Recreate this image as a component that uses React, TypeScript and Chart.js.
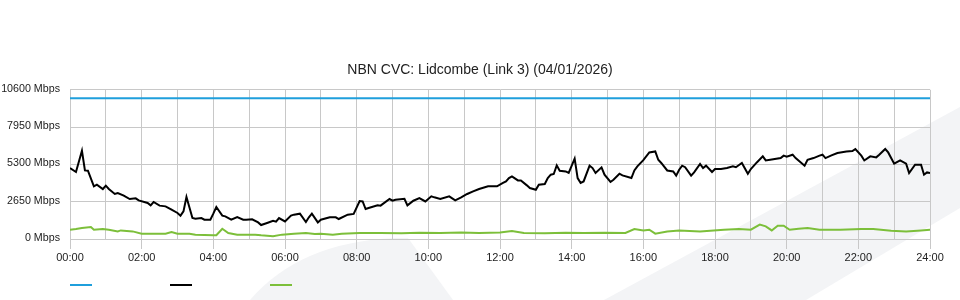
import React, { useEffect, useRef } from "react";
import { Chart, registerables } from "chart.js";

Chart.register(...registerables);

const TITLE = "NBN CVC: Lidcombe (Link 3) (04/01/2026)";
const Y_MAX = 10600;
const Y_STEP = 2650;
const X_MAX_MIN = 1440;

const capacityTimes = [0, 1440];
const capacityMbps = [10000, 10000];

const downTimes = [
  0, 10, 20, 25, 30, 40, 45, 55, 60, 65,
  75, 80, 90, 100, 110, 115, 130, 135, 140, 150,
  160, 170, 180, 185, 190, 195, 205, 210, 220, 225,
  235, 240, 245, 255, 260, 270, 280, 290, 295, 305,
  315, 320, 330, 340, 345, 350, 360, 370, 375, 385,
  395, 400, 405, 415, 420, 435, 445, 450, 465, 475,
  485, 490, 495, 500, 515, 520, 535, 540, 545, 560,
  565, 575, 585, 595, 605, 610, 620, 635, 645, 655,
  665, 675, 685, 700, 715, 725, 730, 735, 740, 750,
  755, 765, 770, 780, 785, 795, 800, 805, 810, 815,
  820, 830, 835, 845, 850, 855, 860, 870, 875, 880,
  890, 895, 905, 910, 920, 925, 940, 945, 950, 960,
  970, 980, 985, 990, 1000, 1010, 1015, 1020, 1025, 1030,
  1040, 1045, 1055, 1060, 1065, 1075, 1080, 1090, 1100, 1110,
  1115, 1125, 1135, 1140, 1150, 1160, 1165, 1175, 1190, 1195,
  1200, 1210, 1215, 1230, 1235, 1245, 1255, 1260, 1265, 1275,
  1285, 1290, 1300, 1310, 1315, 1325, 1330, 1340, 1350, 1355,
  1365, 1370, 1380, 1390, 1400, 1405, 1415, 1425, 1430, 1435,
  1440,
];
const downMbps = [
  5040, 4760, 6270, 4870, 4850, 3740, 3860, 3550, 3790, 3550,
  3200, 3270, 3080, 2840, 2890, 2740, 2560, 2390, 2630, 2370,
  2320, 2080, 1850, 1660, 1960, 2980, 1490, 1440, 1490, 1370,
  1370, 1800, 2270, 1660, 1610, 1370, 1560, 1370, 1370, 1400,
  1180, 990, 1140, 1300, 1230, 1490, 1250, 1660, 1730, 1800,
  1210, 1540, 1800, 1180, 1370, 1540, 1540, 1420, 1730, 1780,
  2700, 2670, 2130, 2200, 2390, 2370, 2840, 2720, 2790, 2860,
  2390, 2720, 2910, 2670, 3030, 2960, 2840, 3030, 2740, 2960,
  3200, 3380, 3550, 3740, 3740, 3980, 4090, 4330, 4450, 4160,
  4160, 3810, 3620, 3500, 3860, 3910, 4330, 4570, 4620, 5230,
  4850, 4800, 4690, 5710, 4330, 3980, 4090, 5210, 5040, 4690,
  5090, 4570, 4050, 4210, 4640, 4520, 4330, 4870, 5160, 5600,
  6150, 6220, 5630, 5400, 4870, 4800, 4500, 4920, 5210, 5100,
  4500, 4730, 5330, 5040, 5210, 4760, 4970, 4970, 5040, 5160,
  5100, 5400, 4640, 4970, 5440, 5870, 5580, 5650, 5750, 5920,
  5850, 5990, 5750, 5210, 5630, 5750, 5920, 5990, 5750, 5940,
  6110, 6150, 6220, 6250, 6390, 5920, 5580, 5870, 5800, 5990,
  6390, 6150, 5350, 5580, 5350, 4690, 5280, 5280, 4570, 4730,
  4690,
];

const upTimes = [
  0, 10, 20, 35, 40, 55, 65, 80, 85, 105,
  120, 160, 170, 180, 200, 210, 240, 245, 255, 265,
  280, 310, 320, 340, 355, 375, 395, 410, 420, 440,
  455, 485, 520, 555, 585, 620, 655, 685, 720, 740,
  760, 795, 830, 860, 895, 930, 945, 960, 970, 980,
  1000, 1020, 1055, 1095, 1120, 1140, 1155, 1165, 1175, 1185,
  1195, 1205, 1220, 1235, 1255, 1290, 1325, 1345, 1375, 1400,
  1425, 1440,
];
const upMbps = [
  660, 710, 780, 850, 660, 710, 660, 540, 610, 540,
  380, 380, 500, 380, 380, 310, 260, 270, 730, 430,
  310, 310, 260, 190, 310, 380, 430, 360, 380, 310,
  380, 430, 430, 400, 450, 430, 470, 430, 460, 560,
  430, 400, 450, 430, 450, 430, 710, 610, 660, 380,
  540, 610, 540, 660, 710, 660, 1020, 900, 610, 950,
  950, 660, 730, 780, 660, 660, 710, 710, 590, 540,
  610, 660,
];

const COLORS = { capacity: "#1f9fdc", down: "#000000", up: "#7cbf3a" };
const GRID = "#c8c8c8";
const TEXT = "#222222";
const FONT = "'Liberation Sans', Arial, Helvetica, sans-serif";

const toPoints = (t: number[], v: number[]) => t.map((x, i) => ({ x, y: v[i] }));
const fmtTime = (m: number) => `${String(Math.floor(m / 60)).padStart(2, "0")}:00`;

const backgroundPlugin = {
  id: "bgWatermark",
  beforeDraw(chart: any) {
    const { ctx, width, height } = chart;
    ctx.save();
    ctx.fillStyle = "#ffffff";
    ctx.fillRect(0, 0, width, height);
    ctx.fillStyle = "#f3f4f6";
    ctx.beginPath();
    ctx.moveTo(250, 300);
    ctx.quadraticCurveTo(300, 242, 395, 238);
    ctx.lineTo(408, 238);
    ctx.lineTo(453, 300);
    ctx.closePath();
    ctx.fill();
    ctx.beginPath();
    ctx.moveTo(604, 300);
    ctx.lineTo(960, 107);
    ctx.lineTo(960, 208);
    ctx.lineTo(806, 300);
    ctx.closePath();
    ctx.fill();
    ctx.restore();
  },
};

const legendPlugin = {
  id: "lineLegend",
  afterDraw(chart: any) {
    const { ctx } = chart;
    ctx.save();
    ctx.lineWidth = 2;
    chart.data.datasets.forEach((ds: any, i: number) => {
      const x0 = 70 + i * 100;
      ctx.strokeStyle = ds.borderColor;
      ctx.beginPath();
      ctx.moveTo(x0, 285);
      ctx.lineTo(x0 + 22, 285);
      ctx.stroke();
    });
    ctx.restore();
  },
};

export default function App() {
  const ref = useRef<HTMLCanvasElement | null>(null);
  useEffect(() => {
    document.body.style.margin = "0";
    const canvas = ref.current!;
    const chart = new Chart(canvas, {
      type: "line",
      data: {
        datasets: [
          {
            label: "Capacity",
            data: toPoints(capacityTimes, capacityMbps),
            borderColor: COLORS.capacity,
            borderWidth: 2,
            pointRadius: 0,
            tension: 0,
          },
          {
            label: "Download",
            data: toPoints(downTimes, downMbps),
            borderColor: COLORS.down,
            borderWidth: 2,
            pointRadius: 0,
            tension: 0,
          },
          {
            label: "Upload",
            data: toPoints(upTimes, upMbps),
            borderColor: COLORS.up,
            borderWidth: 2,
            pointRadius: 0,
            tension: 0,
          },
        ],
      },
      options: {
        responsive: false,
        animation: false,
        layout: { padding: { left: 0, right: 0, top: 0, bottom: 34 } },
        plugins: {
          legend: { display: false },
          tooltip: { enabled: false },
          title: {
            display: true,
            text: TITLE,
            color: TEXT,
            font: { family: FONT, size: 14, weight: "normal" },
            padding: { top: 62, bottom: 11 },
          },
        },
        scales: {
          x: {
            type: "linear",
            min: 0,
            max: X_MAX_MIN,
            grid: {
              color: GRID,
              lineWidth: 1,
              drawTicks: true,
              tickLength: 10,
              tickColor: (c: any) => (c.tick && c.tick.value % 120 === 0 ? GRID : "rgba(0,0,0,0)"),
            },
            border: { color: GRID },
            ticks: {
              stepSize: 60,
              autoSkip: false,
              maxRotation: 0,
              padding: 2,
              color: TEXT,
              font: { family: FONT, size: 11 },
              callback: (v: any) => (Number(v) % 120 === 0 ? fmtTime(Number(v)) : ""),
            },
            afterFit: (s: any) => {
              s.height = 27;
            },
          },
          y: {
            min: 0,
            max: Y_MAX,
            grid: { color: GRID, lineWidth: 1, drawTicks: false },
            border: { color: GRID },
            ticks: {
              stepSize: Y_STEP,
              padding: 10,
              labelOffset: -1,
              color: TEXT,
              font: { family: FONT, size: 10.7 },
              callback: (v: any) => `${v} Mbps`,
            },
            afterFit: (s: any) => {
              s.width = 70;
            },
          },
          yRight: {
            position: "right",
            min: 0,
            max: Y_MAX,
            grid: { display: false, drawTicks: false },
            border: { display: false },
            ticks: { display: false },
            afterFit: (s: any) => {
              s.width = 30;
            },
          },
        },
      },
      plugins: [backgroundPlugin, legendPlugin],
    });
    return () => chart.destroy();
  }, []);
  return <canvas ref={ref} width={960} height={300} style={{ display: "block" }} />;
}
